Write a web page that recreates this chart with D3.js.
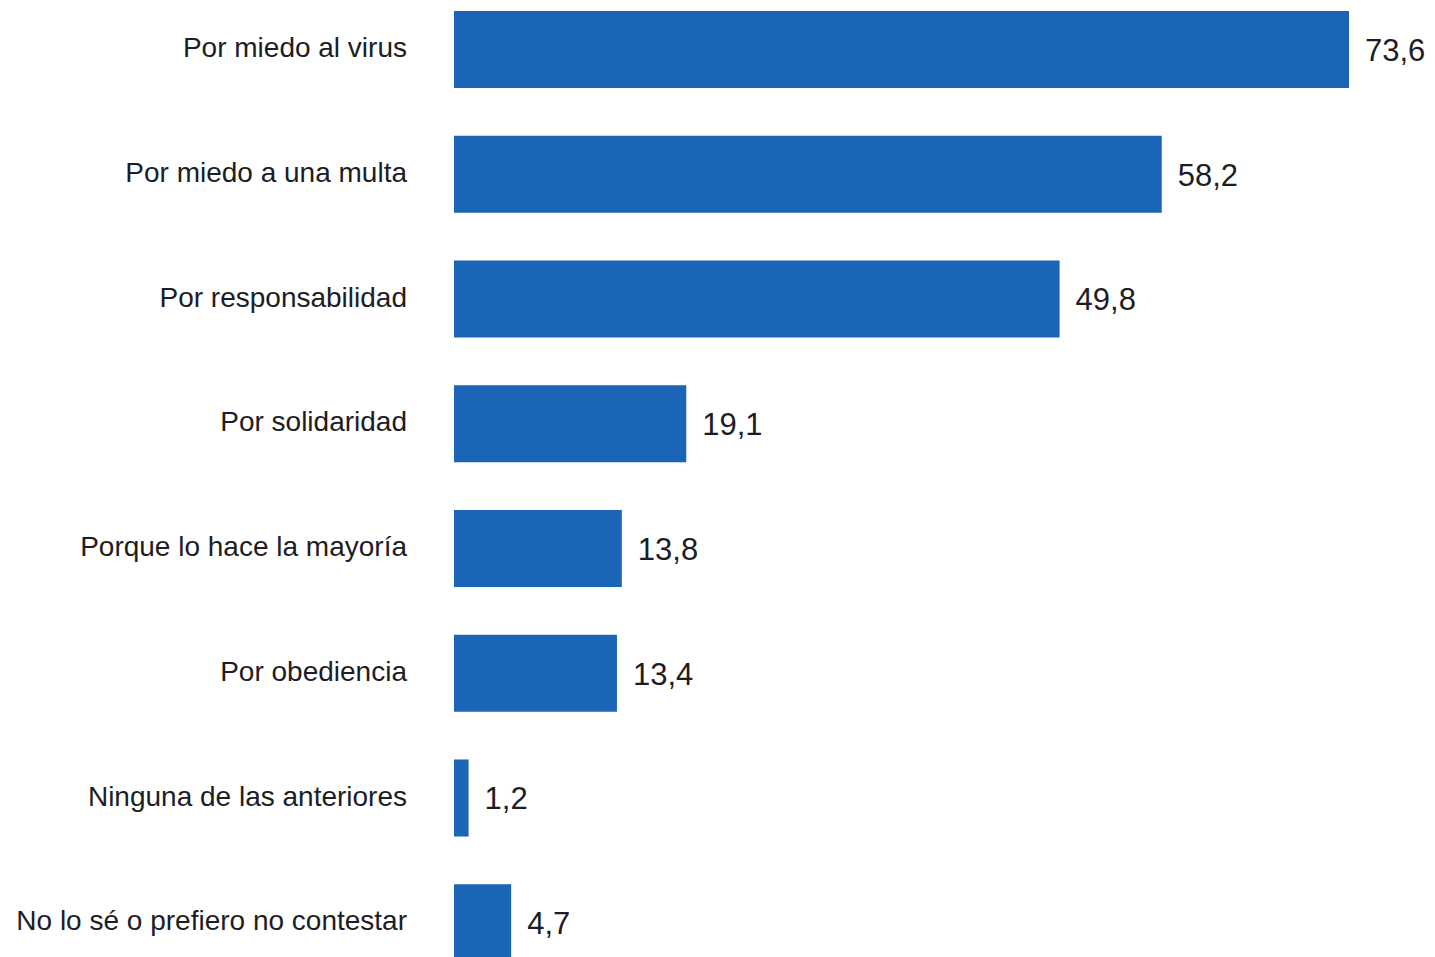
<!DOCTYPE html>
<html>
<head>
<meta charset="utf-8">
<script src="https://cdn.jsdelivr.net/npm/d3@7"></script>
<style>
  html, body { margin: 0; padding: 0; background: #fff; }
  svg { display: block; }
</style>
</head>
<body>
<svg id="chart" width="1435" height="957"></svg>
<script>
const categories = [
  "Por miedo al virus",
  "Por miedo a una multa",
  "Por responsabilidad",
  "Por solidaridad",
  "Porque lo hace la mayoría",
  "Por obediencia",
  "Ninguna de las anteriores",
  "No lo sé o prefiero no contestar"
];
const values = [73.6, 58.2, 49.8, 19.1, 13.8, 13.4, 1.2, 4.7];
const valueLabels = ["73,6", "58,2", "49,8", "19,1", "13,8", "13,4", "1,2", "4,7"];

const svg = d3.select("#chart");
const x0 = 454;
const x = d3.scaleLinear().domain([0, 73.6]).range([x0, 1349]);
const step = 124.75;
const barH = 77;
const y = d3.scaleBand()
  .domain(categories)
  .range([11 - (step - barH) / 2, 11 - (step - barH) / 2 + step * categories.length])
  .paddingInner((step - barH) / step)
  .paddingOuter((step - barH) / step / 2);

const data = categories.map((c, i) => ({ c, v: values[i], l: valueLabels[i] }));

svg.selectAll("rect.bar").data(data).enter().append("rect")
  .attr("class", "bar")
  .attr("x", x(0))
  .attr("y", d => y(d.c))
  .attr("width", d => x(d.v) - x(0))
  .attr("height", y.bandwidth())
  .attr("fill", "#1b65b7");

const yAxis = d3.axisLeft(y).tickSize(0).tickPadding(0);
const ag = svg.append("g").attr("transform", "translate(407,0)").call(yAxis);
ag.select(".domain").remove();
ag.selectAll("text")
  .attr("font-family", "Liberation Sans, Arial, sans-serif")
  .attr("font-size", 28)
  .attr("fill", "#1d1d25")
  .attr("dy", "0.27em");

svg.selectAll("text.val").data(data).enter().append("text")
  .attr("class", "val")
  .attr("x", d => x(d.v) + 16)
  .attr("y", d => y(d.c) + y.bandwidth() / 2)
  .attr("dy", "0.37em")
  .attr("font-family", "Liberation Sans, Arial, sans-serif")
  .attr("font-size", 31)
  .attr("fill", "#1d1d25")
  .text(d => d.l);
</script>
</body>
</html>
